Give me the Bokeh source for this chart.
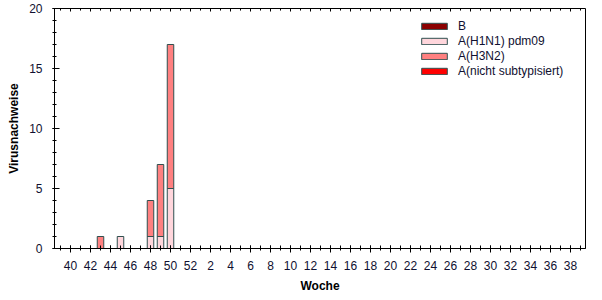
from bokeh.plotting import figure
from bokeh.models import Range1d, FixedTicker, Legend, LegendItem, ColumnDataSource
from bokeh.embed import file_html
from bokeh.resources import INLINE

weeks = list(range(40, 53)) + list(range(1, 40))
h1n1 = [0, 0, 0, 0, 0, 1, 0, 0, 1, 1, 5] + [0] * 41
h3n2 = [0, 0, 0, 1, 0, 0, 0, 0, 3, 6, 12] + [0] * 41
nicht = [0] * 52
b = [0] * 52

series = [
    ("A(H1N1) pdm09", h1n1, "#FFD6DC"),
    ("A(H3N2)", h3n2, "#FF8080"),
    ("A(nicht subtypisiert)", nicht, "#FF0000"),
    ("B", b, "#8B0000"),
]
legend_order = ["B", "A(H1N1) pdm09", "A(H3N2)", "A(nicht subtypisiert)"]

FONT = "Liberation Sans"
TXT = "#101030"
Y_MAX = 20

p = figure(width=602, height=300, output_backend="svg", toolbar_location=None,
           x_range=Range1d(-1.6, 51.5), y_range=Range1d(0, Y_MAX),
           min_border_left=54, min_border_right=17, min_border_top=8, min_border_bottom=52,
           x_axis_label="Woche", y_axis_label="Virusnachweise")
p.grid.visible = False
p.outline_line_color = "black"
p.outline_line_width = 1
p.background_fill_color = "white"
p.border_fill_color = "white"

idx = list(range(len(weeks)))
base = [0] * len(weeks)
renderers = {}
nan = float("nan")
for name, vals, color in series:
    xs, bot, top = [], [], []
    for i in idx:
        if vals[i] > 0:
            xs.append(i)
            bot.append(base[i])
            top.append(base[i] + vals[i])
    if not xs:
        xs, bot, top = [nan], [nan], [nan]
    base = [base[i] + vals[i] for i in idx]
    src = ColumnDataSource(dict(x=xs, bottom=bot, top=top))
    r = p.vbar(x="x", bottom="bottom", top="top", width=0.65, source=src,
               fill_color=color, line_color="#2F4F4F", line_width=1)
    renderers[name] = r

# x axis
xa = p.xaxis[0]
xa.ticker = FixedTicker(ticks=list(range(0, 52, 2)), minor_ticks=list(range(-1, 52)))
xa.major_label_overrides = {i: str(weeks[i]) for i in range(0, 52, 2)}
xa.major_tick_in = 3
xa.major_tick_out = 4
xa.minor_tick_in = 3
xa.minor_tick_out = 2
xa.major_label_standoff = 8
xa.axis_label_standoff = 6

ya = p.yaxis[0]
ya.ticker = FixedTicker(ticks=[0, 5, 10, 15, 20], minor_ticks=list(range(0, 21)))
ya.major_tick_in = 5
ya.major_tick_out = 2
ya.minor_tick_in = 2
ya.minor_tick_out = 2
ya.major_label_standoff = 10
ya.axis_label_standoff = 5

for ax in (xa, ya):
    ax.axis_line_color = "black"
    ax.major_tick_line_color = "black"
    ax.minor_tick_line_color = "black"
    ax.major_label_text_font = FONT
    ax.major_label_text_font_size = "12px"
    ax.major_label_text_color = TXT
    ax.axis_label_text_font = FONT
    ax.axis_label_text_font_size = "12px"
    ax.axis_label_text_font_style = "bold"
    ax.axis_label_text_color = "black"

# top border ticks (inward)
major_top = list(range(0, 52, 2))
minor_top = [i for i in range(-1, 52) if i % 2 != 0]
p.segment(x0=major_top, x1=major_top, y0=[Y_MAX] * len(major_top), y1=[Y_MAX - 0.25] * len(major_top),
          line_color="black", line_width=1)
p.segment(x0=minor_top, x1=minor_top, y0=[Y_MAX] * len(minor_top), y1=[Y_MAX - 0.17] * len(minor_top),
          line_color="black", line_width=1)

legend = Legend(items=[LegendItem(label=n, renderers=[renderers[n]]) for n in legend_order],
                location=(364, 170), padding=0, margin=0, spacing=0,
                glyph_width=32, glyph_height=8, label_standoff=8, label_height=15,
                label_text_font=FONT, label_text_font_size="12px", label_text_color=TXT,
                border_line_color=None, background_fill_alpha=0)
p.add_layout(legend, "center")

open("out.html", "w").write(file_html(p, INLINE))
